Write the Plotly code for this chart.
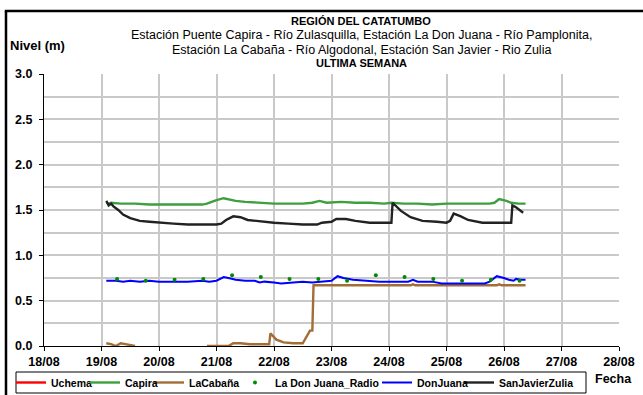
import plotly.graph_objects as go

# ---- series data (water level, m) ----
capira_t = ["2019-08-19 02:00", "2019-08-19 03:00", "2019-08-19 04:00", "2019-08-19 08:00",
            "2019-08-19 14:00", "2019-08-19 20:00", "2019-08-20 04:00", "2019-08-20 12:00",
            "2019-08-20 18:00", "2019-08-20 20:00", "2019-08-20 22:00", "2019-08-21 00:00",
            "2019-08-21 03:00", "2019-08-21 05:00", "2019-08-21 08:00", "2019-08-21 12:00",
            "2019-08-21 18:00", "2019-08-22 00:00", "2019-08-22 06:00", "2019-08-22 12:00",
            "2019-08-22 16:00", "2019-08-22 19:00", "2019-08-22 22:00", "2019-08-23 04:00",
            "2019-08-23 10:00", "2019-08-23 16:00", "2019-08-23 22:00", "2019-08-24 01:00",
            "2019-08-24 06:00", "2019-08-24 12:00", "2019-08-24 18:00", "2019-08-25 00:00",
            "2019-08-25 06:00", "2019-08-25 12:00", "2019-08-25 18:00", "2019-08-25 20:00",
            "2019-08-25 22:00", "2019-08-26 01:00", "2019-08-26 03:00", "2019-08-26 06:00",
            "2019-08-26 09:00"]
capira_v = [1.58, 1.57, 1.58, 1.57, 1.57, 1.56, 1.56, 1.56, 1.56, 1.57, 1.59, 1.61,
            1.63, 1.62, 1.60, 1.59, 1.58, 1.57, 1.57, 1.57, 1.58, 1.60, 1.58, 1.59,
            1.58, 1.58, 1.57, 1.58, 1.57, 1.57, 1.56, 1.57, 1.57, 1.57, 1.57, 1.58,
            1.62, 1.60, 1.58, 1.57, 1.57]

zulia_t = ["2019-08-19 02:00", "2019-08-19 03:00", "2019-08-19 04:00", "2019-08-19 05:00",
           "2019-08-19 07:00", "2019-08-19 09:00", "2019-08-19 12:00", "2019-08-19 16:00",
           "2019-08-19 20:00", "2019-08-20 00:00", "2019-08-20 06:00", "2019-08-20 12:00",
           "2019-08-20 18:00", "2019-08-21 00:00", "2019-08-21 02:00", "2019-08-21 04:00",
           "2019-08-21 07:00", "2019-08-21 10:00", "2019-08-21 13:00", "2019-08-21 19:00",
           "2019-08-22 00:00", "2019-08-22 06:00", "2019-08-22 12:00", "2019-08-22 18:00",
           "2019-08-22 20:00", "2019-08-23 00:00", "2019-08-23 02:00", "2019-08-23 06:00",
           "2019-08-23 10:00", "2019-08-23 16:00", "2019-08-23 23:00", "2019-08-24 01:00",
           "2019-08-24 01:30", "2019-08-24 05:00", "2019-08-24 09:00", "2019-08-24 14:00",
           "2019-08-24 20:00", "2019-08-25 00:00", "2019-08-25 01:30", "2019-08-25 03:00",
           "2019-08-25 06:00", "2019-08-25 09:00", "2019-08-25 15:00", "2019-08-25 21:00",
           "2019-08-26 03:00", "2019-08-26 03:30", "2019-08-26 05:00", "2019-08-26 08:00"]
zulia_v = [1.60, 1.55, 1.57, 1.54, 1.50, 1.45, 1.41, 1.38, 1.37, 1.36, 1.35, 1.34,
           1.34, 1.34, 1.35, 1.39, 1.43, 1.42, 1.39, 1.37, 1.36, 1.35, 1.34, 1.34,
           1.36, 1.37, 1.40, 1.40, 1.38, 1.36, 1.36, 1.36, 1.58, 1.49, 1.42, 1.38,
           1.37, 1.36, 1.38, 1.46, 1.43, 1.39, 1.36, 1.36, 1.36, 1.55, 1.53, 1.47]

donjuana_t = ["2019-08-19 02:00", "2019-08-19 06:00", "2019-08-19 09:00", "2019-08-19 12:00",
              "2019-08-19 16:00", "2019-08-19 20:00", "2019-08-20 00:00", "2019-08-20 06:00",
              "2019-08-20 12:00", "2019-08-20 18:00", "2019-08-20 21:00", "2019-08-21 00:00",
              "2019-08-21 03:00", "2019-08-21 05:00", "2019-08-21 08:00", "2019-08-21 12:00",
              "2019-08-21 16:00", "2019-08-21 18:00", "2019-08-21 20:00", "2019-08-22 00:00",
              "2019-08-22 03:00", "2019-08-22 08:00", "2019-08-22 12:00", "2019-08-22 16:00",
              "2019-08-22 20:00", "2019-08-23 00:00", "2019-08-23 02:30", "2019-08-23 05:00",
              "2019-08-23 09:00", "2019-08-23 14:00", "2019-08-23 20:00", "2019-08-24 04:00",
              "2019-08-24 08:00", "2019-08-24 10:00", "2019-08-24 12:00", "2019-08-24 18:00",
              "2019-08-24 22:00", "2019-08-25 06:00", "2019-08-25 12:00", "2019-08-25 16:00",
              "2019-08-25 18:00", "2019-08-25 21:00", "2019-08-26 00:00", "2019-08-26 02:00",
              "2019-08-26 04:00", "2019-08-26 05:00", "2019-08-26 07:00", "2019-08-26 09:00"]
donjuana_v = [0.72, 0.72, 0.71, 0.72, 0.71, 0.72, 0.71, 0.71, 0.71, 0.72, 0.71, 0.72,
              0.76, 0.75, 0.73, 0.72, 0.72, 0.70, 0.71, 0.70, 0.69, 0.70, 0.71, 0.70,
              0.71, 0.72, 0.77, 0.75, 0.73, 0.72, 0.71, 0.71, 0.71, 0.73, 0.71, 0.71,
              0.69, 0.69, 0.69, 0.69, 0.71, 0.77, 0.75, 0.73, 0.72, 0.74, 0.73, 0.73]

radio_t = ["2019-08-19 06:30", "2019-08-19 18:30", "2019-08-20 06:30", "2019-08-20 18:30",
           "2019-08-21 06:30", "2019-08-21 18:30", "2019-08-22 06:30", "2019-08-22 18:30",
           "2019-08-23 06:30", "2019-08-23 18:30", "2019-08-24 06:30", "2019-08-24 18:30",
           "2019-08-25 06:30", "2019-08-25 18:30", "2019-08-26 06:30"]
radio_v = [0.74, 0.72, 0.73, 0.74, 0.78, 0.76, 0.74, 0.74, 0.72, 0.78, 0.76, 0.74,
           0.72, 0.73, 0.72]

cabana_t = ["2019-08-19 02:00", "2019-08-19 04:00", "2019-08-19 06:00", "2019-08-19 08:00",
            "2019-08-19 10:00", "2019-08-19 12:00", "2019-08-19 14:00", "2019-08-19 15:00",
            "2019-08-20 19:00", "2019-08-20 20:00", "2019-08-21 05:00", "2019-08-21 07:00",
            "2019-08-21 10:00", "2019-08-21 14:00", "2019-08-21 20:00", "2019-08-21 22:00",
            "2019-08-21 22:30", "2019-08-22 01:00", "2019-08-22 04:00", "2019-08-22 08:00",
            "2019-08-22 12:00", "2019-08-22 14:00", "2019-08-22 15:00", "2019-08-22 16:00",
            "2019-08-22 16:30", "2019-08-23 12:00", "2019-08-24 09:00", "2019-08-24 10:00",
            "2019-08-24 11:00", "2019-08-25 21:00", "2019-08-25 22:00", "2019-08-25 23:00",
            "2019-08-26 09:00"]
cabana_v = [0.03, 0.02, 0.00, 0.03, 0.02, 0.01, 0.00, None,
            None, 0.00, 0.00, 0.03, 0.03, 0.02, 0.02, 0.02,
            0.14, 0.07, 0.04, 0.03, 0.03, 0.12, 0.17, 0.17,
            0.67, 0.67, 0.67, 0.68, 0.67, 0.67, 0.68, 0.67,
            0.67]

# Uchema station reported no readings this week
uchema_t = ["2019-08-19 00:00"]
uchema_v = [None]

y_ticks = [0.0, 0.5, 1.0, 1.5, 2.0, 2.5, 3.0]
y_labels = ["0.0", "0.5", "1.0", "1.5", "2.0", "2.5", "3.0"]
x_ticks = ["2019-08-18", "2019-08-19", "2019-08-20", "2019-08-21", "2019-08-22", "2019-08-23",
           "2019-08-24", "2019-08-25", "2019-08-26", "2019-08-27", "2019-08-28"]
x_labels = ["18/08", "19/08", "20/08", "21/08", "22/08", "23/08",
            "24/08", "25/08", "26/08", "27/08", "28/08"]

FONT = "Liberation Sans, Arial, sans-serif"
W, H = 643, 395
L, R, T, B = 44, 24, 74, 49          # plot area: x 44..619, y 74..346
PW, PH = W - L - R, H - T - B


def px(x):
    return (x - L) / PW


def py(y):
    return (H - B - y) / PH


fig = go.Figure()

# legend entries laid out in one row; each entry gets its own legend box
legend_text_x = [51, 125, 189, 275, 417, 499]

series = [
    ("Uchema", uchema_t, uchema_v, "#ff0000", "lines"),
    ("Capira", capira_t, capira_v, "#3d9f3d", "lines"),
    ("LaCabaña", cabana_t, cabana_v, "#a36d36", "lines"),
    ("La Don Juana_Radio", radio_t, radio_v, "#008a00", "markers"),
    ("DonJuana", donjuana_t, donjuana_v, "#0000ff", "lines"),
    ("SanJavierZulia", zulia_t, zulia_v, "#222222", "lines"),
]

draw_order = [0, 2, 1, 5, 4, 3]
for i in draw_order:
    name, t, v, col, mode = series[i]
    lg = "legend" if i == 0 else f"legend{i + 1}"
    kw = dict(x=t, y=v, name=f"<b>{name}</b>", mode=mode, legend=lg, connectgaps=False,
              hoverinfo="skip", showlegend=True)
    if mode == "lines":
        kw["line"] = dict(color=col, width=2.4 if i != 4 else 2.0)
    else:
        kw["marker"] = dict(color=col, size=4)
    fig.add_trace(go.Scatter(**kw))

legend_cfg = {}
for i in range(6):
    key = "legend" if i == 0 else f"legend{i + 1}"
    legend_cfg[key] = dict(
        x=px(legend_text_x[i] - 40), y=py(382.5), xanchor="left", yanchor="middle",
        orientation="h", bgcolor="rgba(0,0,0,0)", borderwidth=0,
        font=dict(family=FONT, size=10.5, color="black"),
        itemwidth=30, tracegroupgap=0,
    )
fig.update_layout(**legend_cfg)

bold = lambda s: f"<b>{s}</b>"
annotations = [
    dict(text=bold("REGIÓN DEL CATATUMBO"), y=21.5, size=11),
    dict(text="Estación Puente Capira - Río Zulasquilla, Estación La Don Juana - Río Pamplonita,",
         y=35, size=12.5),
    dict(text="Estación La Cabaña - Río Algodonal, Estación San Javier - Rio Zulia",
         y=49.5, size=12.5),
    dict(text=bold("ULTIMA SEMANA"), y=63, size=11),
]
for a in annotations:
    fig.add_annotation(text=a["text"], x=px(361), y=py(a["y"]), xref="paper", yref="paper",
                       xanchor="center", yanchor="middle", showarrow=False,
                       font=dict(family=FONT, size=a["size"], color="black"))

fig.add_annotation(text=bold("Nivel (m)"), x=px(8), y=py(46), xref="paper", yref="paper",
                   xanchor="left", yanchor="middle", showarrow=False,
                   font=dict(family=FONT, size=13, color="black"))
fig.add_annotation(text=bold("Fecha"), x=px(593), y=py(379), xref="paper", yref="paper",
                   xanchor="left", yanchor="middle", showarrow=False,
                   font=dict(family=FONT, size=12.5, color="black"))

# outer frame (left and top edges) and legend box
fig.add_shape(type="line", xref="paper", yref="paper",
              x0=px(6), x1=px(6), y0=py(400), y1=py(11),
              line=dict(color="black", width=2.5), layer="below")
fig.add_shape(type="line", xref="paper", yref="paper",
              x0=px(4.8), x1=px(650), y0=py(11), y1=py(11),
              line=dict(color="black", width=2.5), layer="below")
fig.add_shape(type="rect", xref="paper", yref="paper",
              x0=px(16), x1=px(586), y0=py(393), y1=py(372),
              line=dict(color="black", width=1), layer="above")

grid = "#c9c9c9"
tick_font = dict(family=FONT, size=12.5, color="black")
fig.update_xaxes(
    type="date", range=["2019-08-18", "2019-08-28"],
    tickvals=x_ticks, ticktext=[bold(s) for s in x_labels],
    showgrid=True, gridcolor=grid, gridwidth=1.5,
    showline=True, linecolor="black", linewidth=1,
    ticks="outside", ticklen=4, tickcolor="black",
    tickfont=tick_font, zeroline=False,
)
fig.update_yaxes(
    range=[0, 3], tickvals=y_ticks, ticktext=[bold(s) for s in y_labels],
    showgrid=True, gridcolor=grid, gridwidth=1.5,
    minor=dict(dtick=0.25, showgrid=True, gridcolor=grid, gridwidth=1.5),
    showline=True, linecolor="black", linewidth=1,
    ticks="outside", ticklen=4, tickcolor="black",
    tickfont=tick_font, ticklabelstandoff=4, zeroline=False,
)

fig.update_layout(
    width=W, height=H, margin=dict(l=L, r=R, t=T, b=B, autoexpand=False),
    paper_bgcolor="white", plot_bgcolor="white",
    showlegend=True,
)

fig.write_html("out.html")
